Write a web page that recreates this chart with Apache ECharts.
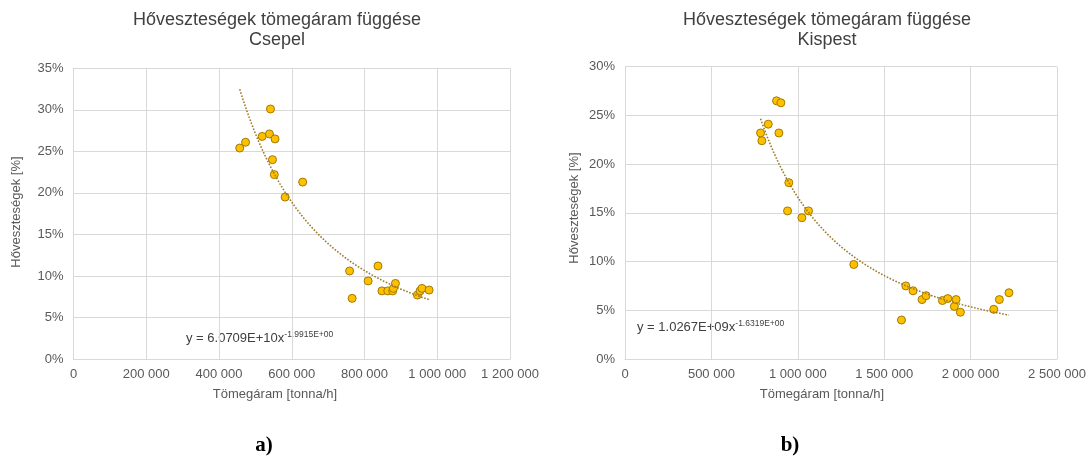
<!DOCTYPE html>
<html>
<head>
<meta charset="utf-8">
<script src="https://cdn.jsdelivr.net/npm/echarts@6/dist/echarts.min.js"></script>
<style>
  html, body { margin: 0; padding: 0; background: #fff; }
  #chart { width: 1088px; height: 459px; }
</style>
</head>
<body>
<div id="chart"></div>
<script>
// Csepel: mass flow [tonna/h] and heat loss [%]
const csepelX = [457000, 473000, 518600, 538700, 541500, 554000, 547000, 552000, 581800, 630000,
                 759000, 766000, 810000, 837000, 848000, 864000, 877500, 879500, 885000,
                 945500, 952800, 958000, 977600];
const csepelY = [25.4, 26.1, 26.8, 27.1, 30.1, 26.5, 24.0, 22.2, 19.5, 21.3,
                 10.6, 7.3, 9.4, 11.2, 8.2, 8.2, 8.2, 8.5, 9.1,
                 7.7, 8.2, 8.5, 8.3];

// Kispest: mass flow [tonna/h] and heat loss [%]
const kispestX = [784500, 792000, 829000, 877000, 902000, 890500, 948000, 940600, 1023500, 1062000,
                  1324000, 1600000, 1625000, 1667000, 1719000, 1742500, 1837000, 1868000, 1906000,
                  1916000, 1941000, 2134000, 2166500, 2222000];
const kispestY = [23.2, 22.4, 24.1, 26.5, 26.3, 23.2, 18.1, 15.2, 14.5, 15.2,
                  9.7, 4.0, 7.5, 7.0, 6.1, 6.5, 6.0, 6.2, 5.4,
                  6.1, 4.8, 5.1, 6.1, 6.8];

// Power-law trendlines y = a * x^b (y as a fraction)
const csepelTrend = { a: 6.0709e10, b: -1.9915 };
const kispestTrend = { a: 1.0267e9, b: -1.6319 };
const csepelEq = ['y = 6.0709E+10x', '-1.9915E+00'];
const kispestEq = ['y = 1.0267E+09x', '-1.6319E+00'];

// Axis tick settings
const csepelXAxis = { max: 1200000, step: 200000 };
const kispestXAxis = { max: 2500000, step: 500000 };
const csepelYAxis = { max: 35, step: 5 };
const kispestYAxis = { max: 30, step: 5 };

const titleText = 'Hőveszteségek tömegáram függése';
const siteNames = ['Csepel', 'Kispest'];
const xName = 'Tömegáram [tonna/h]';
const yName = 'Hőveszteségek [%]';
const panelTags = ['a)', 'b)'];

const FONT = '"Liberation Sans", Arial, sans-serif';
const GRID = '#d9d9d9';
const LABEL = '#595959';
const DARK = '#404040';

function zip(xs, ys) { return xs.map((x, i) => [x, ys[i]]); }

function trendPoints(xs, coef) {
  const lo = Math.min(...xs), hi = Math.max(...xs);
  const n = 80, pts = [];
  for (let i = 0; i <= n; i++) {
    const x = lo + (hi - lo) * i / n;
    pts.push([x, 100 * coef.a * Math.pow(x, coef.b)]);
  }
  return pts;
}

function spaced(v) {
  return String(v).replace(/\B(?=(\d{3})+(?!\d))/g, ' ');
}

function xAxisCfg(idx, ax) {
  return {
    type: 'value', gridIndex: idx, min: 0, max: ax.max, interval: ax.step,
    axisLine: { show: true, lineStyle: { color: GRID, width: 1 } },
    axisTick: { show: false },
    splitLine: { show: true, lineStyle: { color: GRID, width: 1 } },
    axisLabel: { formatter: spaced, color: LABEL, fontSize: 13, fontFamily: FONT, margin: 9 }
  };
}

function yAxisCfg(idx, ax) {
  return {
    type: 'value', gridIndex: idx, min: 0, max: ax.max, interval: ax.step,
    axisLine: { show: true, lineStyle: { color: GRID, width: 1 } },
    axisTick: { show: false },
    splitLine: { show: true, lineStyle: { color: GRID, width: 1 } },
    axisLabel: { formatter: '{value}%', color: LABEL, fontSize: 13, fontFamily: FONT, margin: 10 }
  };
}

function scatterSeries(idx, xs, ys) {
  return {
    type: 'scatter', xAxisIndex: idx, yAxisIndex: idx, data: zip(xs, ys),
    symbol: 'circle', symbolSize: 8, z: 3,
    itemStyle: { color: '#FFC000', borderColor: '#A27A00', borderWidth: 1, opacity: 1 }
  };
}

function trendSeries(idx, xs, coef) {
  return {
    type: 'line', xAxisIndex: idx, yAxisIndex: idx, data: trendPoints(xs, coef),
    showSymbol: false, symbol: 'none', smooth: false, z: 4, silent: true,
    lineStyle: { color: '#9E7B28', width: 1.6, type: [1.6, 1.6] }
  };
}

function text(x, y, str, size, extra) {
  return Object.assign({
    type: 'text', x: x, y: y, silent: true,
    style: Object.assign({
      text: str, fontSize: size, fontFamily: FONT, fill: DARK,
      textAlign: 'center', textVerticalAlign: 'middle'
    }, extra || {})
  });
}

function eqText(x, y, eq) {
  return {
    type: 'text', x: x, y: y, silent: true,
    style: {
      text: '{m|' + eq[0] + '}{s|' + eq[1] + '}',
      textAlign: 'left', textVerticalAlign: 'middle',
      rich: {
        m: { fontSize: 13, fontFamily: FONT, fill: DARK, lineHeight: 15 },
        s: { fontSize: 8.5, fontFamily: FONT, fill: DARK, verticalAlign: 'top', lineHeight: 10 }
      }
    }
  };
}

const chart = echarts.init(document.getElementById('chart'), null, { renderer: 'canvas' });

chart.setOption({
  animation: false,
  backgroundColor: '#ffffff',
  grid: [
    { left: 73.5, right: 578, top: 68.3, bottom: 100, outerBoundsMode: 'none' },
    { left: 625, right: 31, top: 66.7, bottom: 100, outerBoundsMode: 'none' }
  ],
  xAxis: [xAxisCfg(0, csepelXAxis), xAxisCfg(1, kispestXAxis)],
  yAxis: [yAxisCfg(0, csepelYAxis), yAxisCfg(1, kispestYAxis)],
  series: [
    scatterSeries(0, csepelX, csepelY),
    trendSeries(0, csepelX, csepelTrend),
    scatterSeries(1, kispestX, kispestY),
    trendSeries(1, kispestX, kispestTrend)
  ],
  graphic: [
    text(277, 20, titleText, 18),
    text(277, 40, siteNames[0], 18),
    text(827, 20, titleText, 18),
    text(827, 40, siteNames[1], 18),
    text(275, 394, xName, 13, { fill: LABEL }),
    text(822, 394, xName, 13, { fill: LABEL }),
    Object.assign(text(16, 212, yName, 13, { fill: LABEL }), { rotation: Math.PI / 2 }),
    Object.assign(text(574, 208, yName, 13, { fill: LABEL }), { rotation: Math.PI / 2 }),
    eqText(186, 338, csepelEq),
    eqText(637, 327, kispestEq),
    text(264, 446, panelTags[0], 21, { fontFamily: '"Liberation Serif", "Times New Roman", serif', fontWeight: 'bold', fill: '#000' }),
    text(790, 446, panelTags[1], 21, { fontFamily: '"Liberation Serif", "Times New Roman", serif', fontWeight: 'bold', fill: '#000' })
  ]
});
</script>
</body>
</html>
